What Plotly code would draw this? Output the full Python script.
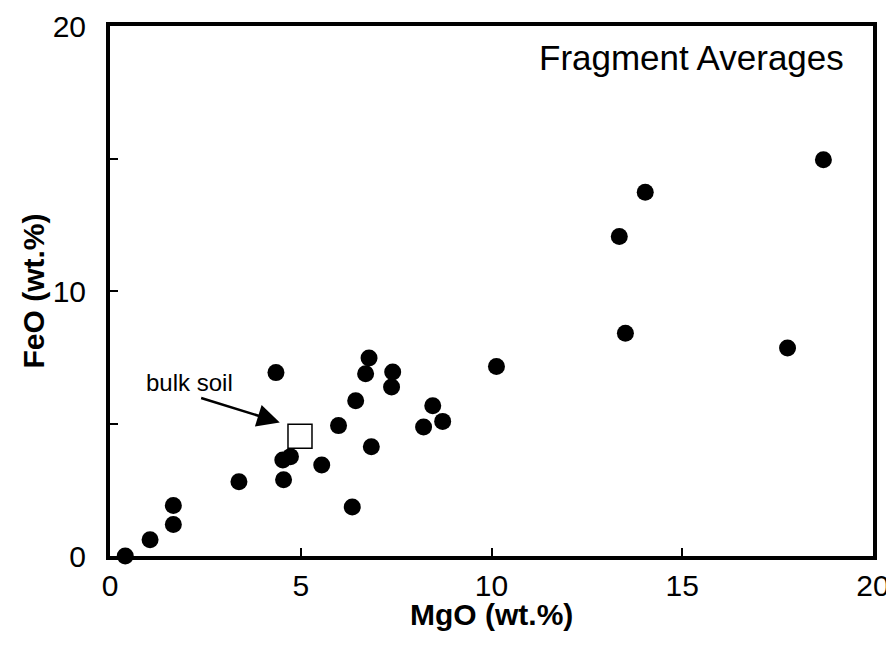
import plotly.graph_objects as go

# Fragment averages (MgO, FeO wt.%)
mgo = [0.40, 1.05, 1.66, 1.66, 3.38, 4.55, 4.53, 4.73, 4.35, 5.55, 5.99, 6.35, 6.44, 6.70,
       6.79, 6.85, 7.41, 7.38, 8.22, 8.46, 8.72, 10.13, 14.03, 13.35, 13.51, 18.70, 17.76]
feo = [0.00, 0.61, 1.19, 1.91, 2.80, 2.88, 3.62, 3.75, 6.92, 3.43, 4.92, 1.85, 5.86, 6.88,
       7.47, 4.12, 6.94, 6.38, 4.87, 5.67, 5.08, 7.15, 13.73, 12.06, 8.41, 14.95, 7.85]

bulk_mgo = [4.98]
bulk_feo = [4.52]

x_ticks = [0, 5, 10, 15, 20]
x_ticktext = ["0", "5", "10", "15", "20"]
y_ticks = [0, 5, 10, 15, 20]
y_ticktext = ["0", "", "10", "", "20"]

FONT = "Liberation Sans, Arial, sans-serif"

fig = go.Figure()
fig.add_trace(go.Scatter(
    x=mgo, y=feo, mode="markers",
    marker=dict(symbol="circle", size=17, color="black"),
    cliponaxis=False, showlegend=False,
))
fig.add_trace(go.Scatter(
    x=bulk_mgo, y=bulk_feo, mode="markers",
    marker=dict(symbol="square", size=24, color="white",
                line=dict(color="black", width=1.5)),
    cliponaxis=False, showlegend=False,
))

fig.add_annotation(x=4.45, y=5.04, ax=2.35, ay=5.98, xref="x", yref="y",
                   axref="x", ayref="y", text="", showarrow=True,
                   arrowhead=2, arrowsize=1.8, arrowwidth=2.5, arrowcolor="black")
fig.add_annotation(x=2.09, y=6.55, xref="x", yref="y", text="bulk soil",
                   showarrow=False, font=dict(size=24, color="black", family=FONT))
fig.add_annotation(x=19.3, y=18.8, xref="x", yref="y", text="Fragment Averages",
                   xanchor="right", showarrow=False,
                   font=dict(size=35, color="black", family=FONT))
# x-axis title
fig.add_annotation(x=0.5, y=0, xref="paper", yref="paper", yshift=-58,
                   text="<b>MgO (wt.%)</b>", showarrow=False, yanchor="middle",
                   font=dict(size=30, color="black", family=FONT))

axis_common = dict(
    showgrid=False, zeroline=False, showline=True, linecolor="black", linewidth=4,
    mirror=True, ticks="inside", ticklen=8, tickwidth=1.5, tickcolor="black",
    tickfont=dict(size=30, color="black", family=FONT), automargin=False,
)

fig.update_xaxes(range=[0, 20], tickvals=x_ticks, ticktext=x_ticktext,
                 ticklabelstandoff=0, **axis_common)
fig.update_yaxes(range=[0, 20], tickvals=y_ticks, ticktext=y_ticktext,
                 ticklabelstandoff=14,
                 title=dict(text="<b>FeO (wt.%)</b>", standoff=0,
                            font=dict(size=30, color="black", family=FONT)),
                 **axis_common)

# page body has an 8px default margin, so offsets are compensated here
fig.update_layout(
    width=894, height=647,
    margin=dict(l=102, r=29, t=18, b=99),
    paper_bgcolor="white", plot_bgcolor="white",
    font=dict(family=FONT, color="black"),
)

fig.write_html("out.html")
